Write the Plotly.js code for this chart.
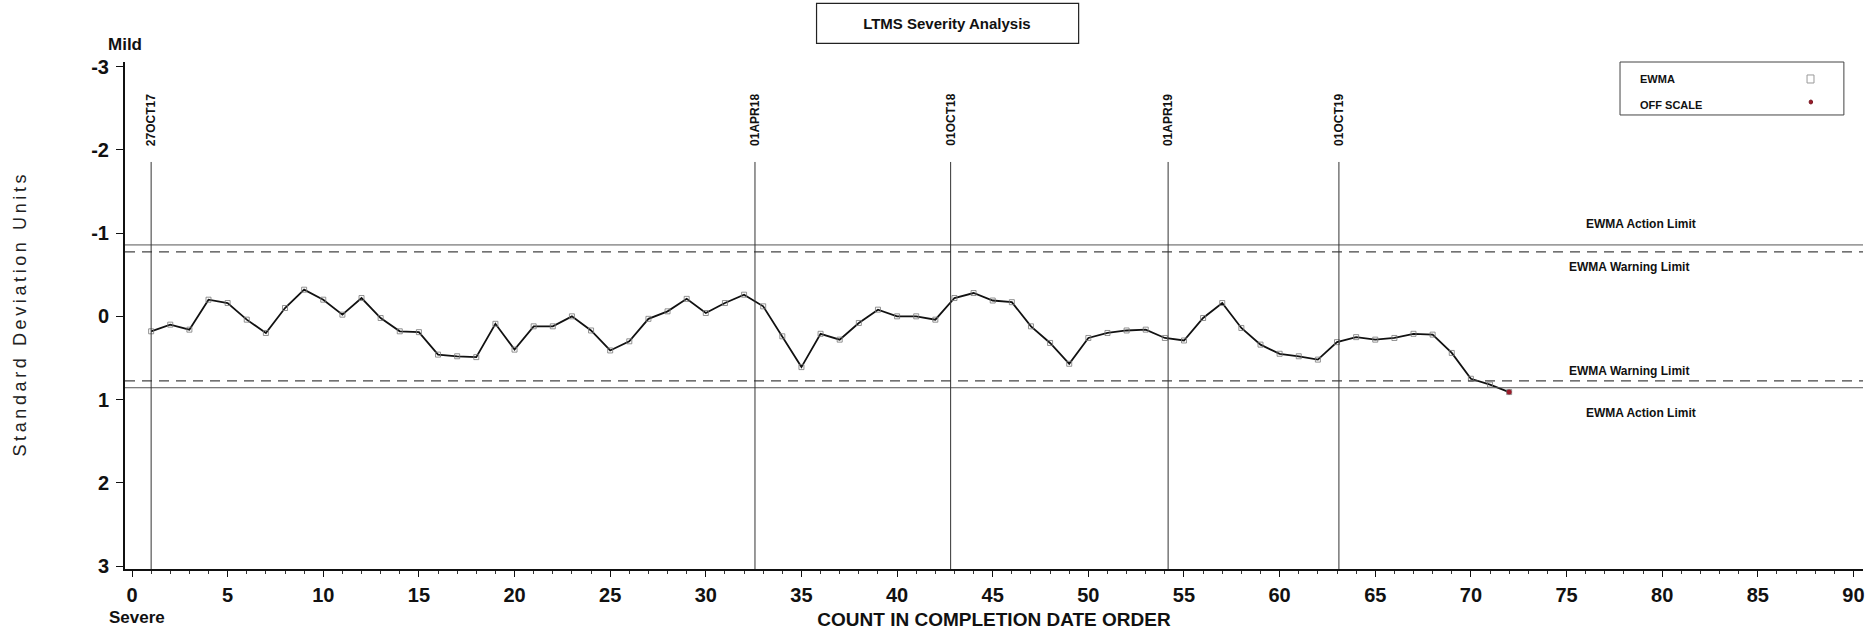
<!DOCTYPE html>
<html><head><meta charset="utf-8">
<script src="https://cdn.plot.ly/plotly-3.0.1.min.js"></script>
<style>html,body{margin:0;padding:0;background:#fff;} #chart{width:1874px;height:635px;}</style>
</head><body><div id="chart"></div>
<script>
// ---- data ----
const testCount = [1,2,3,4,5,6,7,8,9,10,11,12,13,14,15,16,17,18,19,20,21,22,23,24,25,26,27,28,29,30,31,32,33,34,35,36,37,38,39,40,41,42,43,44,45,46,47,48,49,50,51,52,53,54,55,56,57,58,59,60,61,62,63,64,65,66,67,68,69,70,71,72];
const ewmaValues = [0.18,0.10,0.16,-0.20,-0.16,0.04,0.20,-0.10,-0.32,-0.20,-0.02,-0.22,0.02,0.18,0.19,0.46,0.48,0.49,0.09,0.40,0.12,0.12,0.00,0.17,0.41,0.30,0.03,-0.06,-0.21,-0.04,-0.16,-0.26,-0.12,0.24,0.61,0.21,0.28,0.08,-0.08,0.00,0.00,0.04,-0.22,-0.28,-0.19,-0.17,0.12,0.32,0.57,0.26,0.20,0.17,0.16,0.26,0.29,0.02,-0.16,0.14,0.34,0.45,0.48,0.52,0.31,0.25,0.28,0.26,0.21,0.22,0.44,0.75,0.82,0.91];
const offScaleCount = [72];
const offScaleValues = [0.91];
const actionLimit = 0.858;
const warningLimit = 0.775;
const dateLabels = ['27OCT17','01APR18','01OCT18','01APR19','01OCT19'];
const datePositions = [1, 32.57, 42.8, 54.17, 63.1];
const xTickVals = [0,5,10,15,20,25,30,35,40,45,50,55,60,65,70,75,80,85,90];
const yTickVals = [-3,-2,-1,0,1,2,3];
const yTickText = ['-3','-2','-1','0','1','2','3'];
const yTitle = 'Standard Deviation Units';

const FONT = 'Liberation Sans, Arial, Helvetica, sans-serif';
const spaced = s => s.split(' ').map(w => w.split('').join('\u2009')).join(' \u2009\u2009');

const traces = [
  {x: testCount, y: ewmaValues, type: 'scatter', mode: 'lines+markers', name: 'EWMA',
   line: {color: '#111', width: 1.8},
   marker: {symbol: 'square-open', size: 5, color: '#777', line: {width: 0.8}},
   hoverinfo: 'x+y'},
  {x: offScaleCount, y: offScaleValues, type: 'scatter', mode: 'markers', name: 'OFF SCALE',
   marker: {symbol: 'circle', size: 5, color: '#9b1b2a'}}
];

const shapes = [];
const annotations = [];
function note(x, y, text, size, opts) {
  annotations.push(Object.assign({xref:'paper', yref:'paper', x:x, y:y, text:text, showarrow:false,
    xanchor:'center', yanchor:'middle', font:{family:FONT, size:size, color:'#111', weight:'bold'}}, opts || {}));
}
// limit lines
[[-actionLimit,'solid'],[actionLimit,'solid'],[-warningLimit,'dash'],[warningLimit,'dash']].forEach(([v,d]) => {
  shapes.push({type:'line', xref:'paper', yref:'y', x0:0, x1:1, y0:v, y1:v,
    line:{color: d==='solid' ? '#555' : '#444', width: d==='solid' ? 1 : 1.3, dash: d==='solid' ? 'solid' : '10px,7px'}});
});
// date lines + labels
datePositions.forEach((p, i) => {
  shapes.push({type:'line', xref:'x', yref:'paper', x0:p, x1:p, y0:0, y1:0.8028,
    line:{color:'#333', width:1}});
  note(p, 0.8856, dateLabels[i], 12, {xref:'x', textangle:-90});
});
// limit labels
note(0.8723, 0.6805, 'EWMA Action Limit', 12);
note(0.8654, 0.5957, 'EWMA Warning Limit', 12);
note(0.8654, 0.3905, 'EWMA Warning Limit', 12);
note(0.8723, 0.3077, 'EWMA Action Limit', 12);
// Mild / Severe
note(0, 1.0355, 'Mild', 17);
note(0.0069, -0.0966, 'Severe', 17);
// title box
shapes.push({type:'rect', xref:'paper', yref:'paper', x0:0.3979, x1:0.5487, y0:1.0369, y1:1.1158, line:{color:'#222', width:1.2}, fillcolor:'rgba(0,0,0,0)'});
// legend box
shapes.push({type:'rect', xref:'paper', yref:'paper', x0:0.8602, x1:0.9890, y0:0.8955, y1:1.0, line:{color:'#444', width:1}, fillcolor:'rgba(0,0,0,0)'});
note(0.8705, 0.9665, 'EWMA', 11, {xanchor:'left'});
note(0.8705, 0.9152, 'OFF SCALE', 11, {xanchor:'left'});
shapes.push({type:'rect', xref:'paper', yref:'paper', x0:0.9678, x1:0.9718, y0:0.9586, y1:0.9744, line:{color:'#999', width:1}, fillcolor:'rgba(0,0,0,0)'});
shapes.push({type:'circle', xref:'paper', yref:'paper', x0:0.9690, x1:0.9710, y0:0.9172, y1:0.9250, line:{color:'#7a1a24', width:1}, fillcolor:'#9b1b2a'});

const layout = {
  width: 1874, height: 635,
  margin: {l:125, r:11, t:62, b:66},
  paper_bgcolor:'#fff', plot_bgcolor:'#fff',
  showlegend: false,
  title: {text:'LTMS Severity Analysis', x:0.5053, xanchor:'center', y:0.962, yanchor:'middle',
          font:{family:FONT, size:15, color:'#111', weight:'bold'}},
  xaxis: {range:[-0.366, 90.5], tickvals:xTickVals, ticks:'outside', ticklen:6, tickwidth:1.2, tickcolor:'#111',
          showline:true, linewidth:2, linecolor:'#111', showgrid:false, zeroline:false,
          minor:{dtick:1, tick0:0, ticks:'outside', ticklen:3, tickwidth:1, tickcolor:'#333'},
          tickfont:{family:FONT, size:20, color:'#111', weight:'bold'}, ticklabelstandoff:1,
          title:{text:'COUNT IN COMPLETION DATE ORDER', font:{family:FONT, size:19, color:'#111', weight:'bold'}, standoff:8}},
  yaxis: {range:[3.036, -3.056], tickvals:yTickVals, ticktext:yTickText, ticks:'outside', ticklen:7, tickwidth:1.2, tickcolor:'#111',
          showline:true, linewidth:2, linecolor:'#111', showgrid:false, zeroline:false,
          tickfont:{family:FONT, size:20, color:'#111', weight:'bold'}, ticklabelstandoff:3,
          title:{text: spaced(yTitle), font:{family:FONT, size:18, color:'#222'}, standoff:60}},
  shapes: shapes,
  annotations: annotations
};

Plotly.newPlot('chart', traces, layout, {displayModeBar:false, responsive:false});
</script>
</body></html>
